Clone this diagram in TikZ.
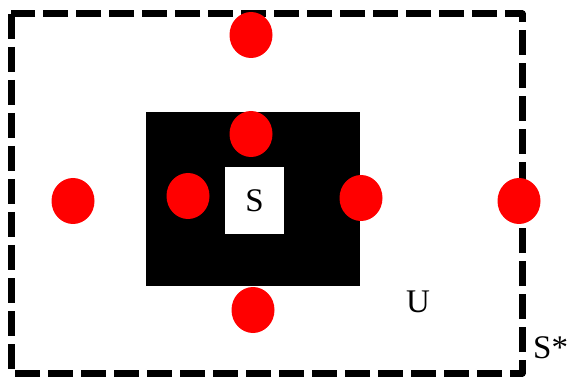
\documentclass[tikz,border=0pt]{standalone}
\usepackage{fontspec}
\setmainfont{Liberation Serif}
\usetikzlibrary{shapes.geometric}
\begin{document}
\begin{tikzpicture}[x=1pt,y=-1pt,
  dot/.style={fill=red, draw=none, ellipse, minimum width=43pt, minimum height=46pt, inner sep=0pt},
  lbl/.style={font=\fontsize{33}{33}\selectfont, inner sep=0pt}]
  \useasboundingbox (0,0) rectangle (567,379);
  % outer dashed region S*
  \draw[line width=7pt, dash pattern=on 25pt off 8pt, line join=round] (11,14) rectangle (522,373);
  % black band and the inner set S
  \fill[black] (146,112) rectangle (360,286);
  \node[fill=white, minimum width=59pt, minimum height=67pt, inner sep=0pt] (S) at (254.5,200.5) {};
  \node[lbl, anchor=base] (Slbl) at (254.5,212) {S};
  % boundary points
  \node[dot] (top) at (251,35) {};
  \node[dot] (itop) at (251,134) {};
  \node[dot] (left) at (73,201) {};
  \node[dot] (ileft) at (188,196) {};
  \node[dot] (iright) at (361,198) {};
  \node[dot] (right) at (519,201) {};
  \node[dot] (bottom) at (253,310) {};
  % labels
  \node[lbl, anchor=base] (U) at (418,312) {U};
  \node[lbl, anchor=base west] (Sstar) at (533,358) {S*};
\end{tikzpicture}
\end{document}
